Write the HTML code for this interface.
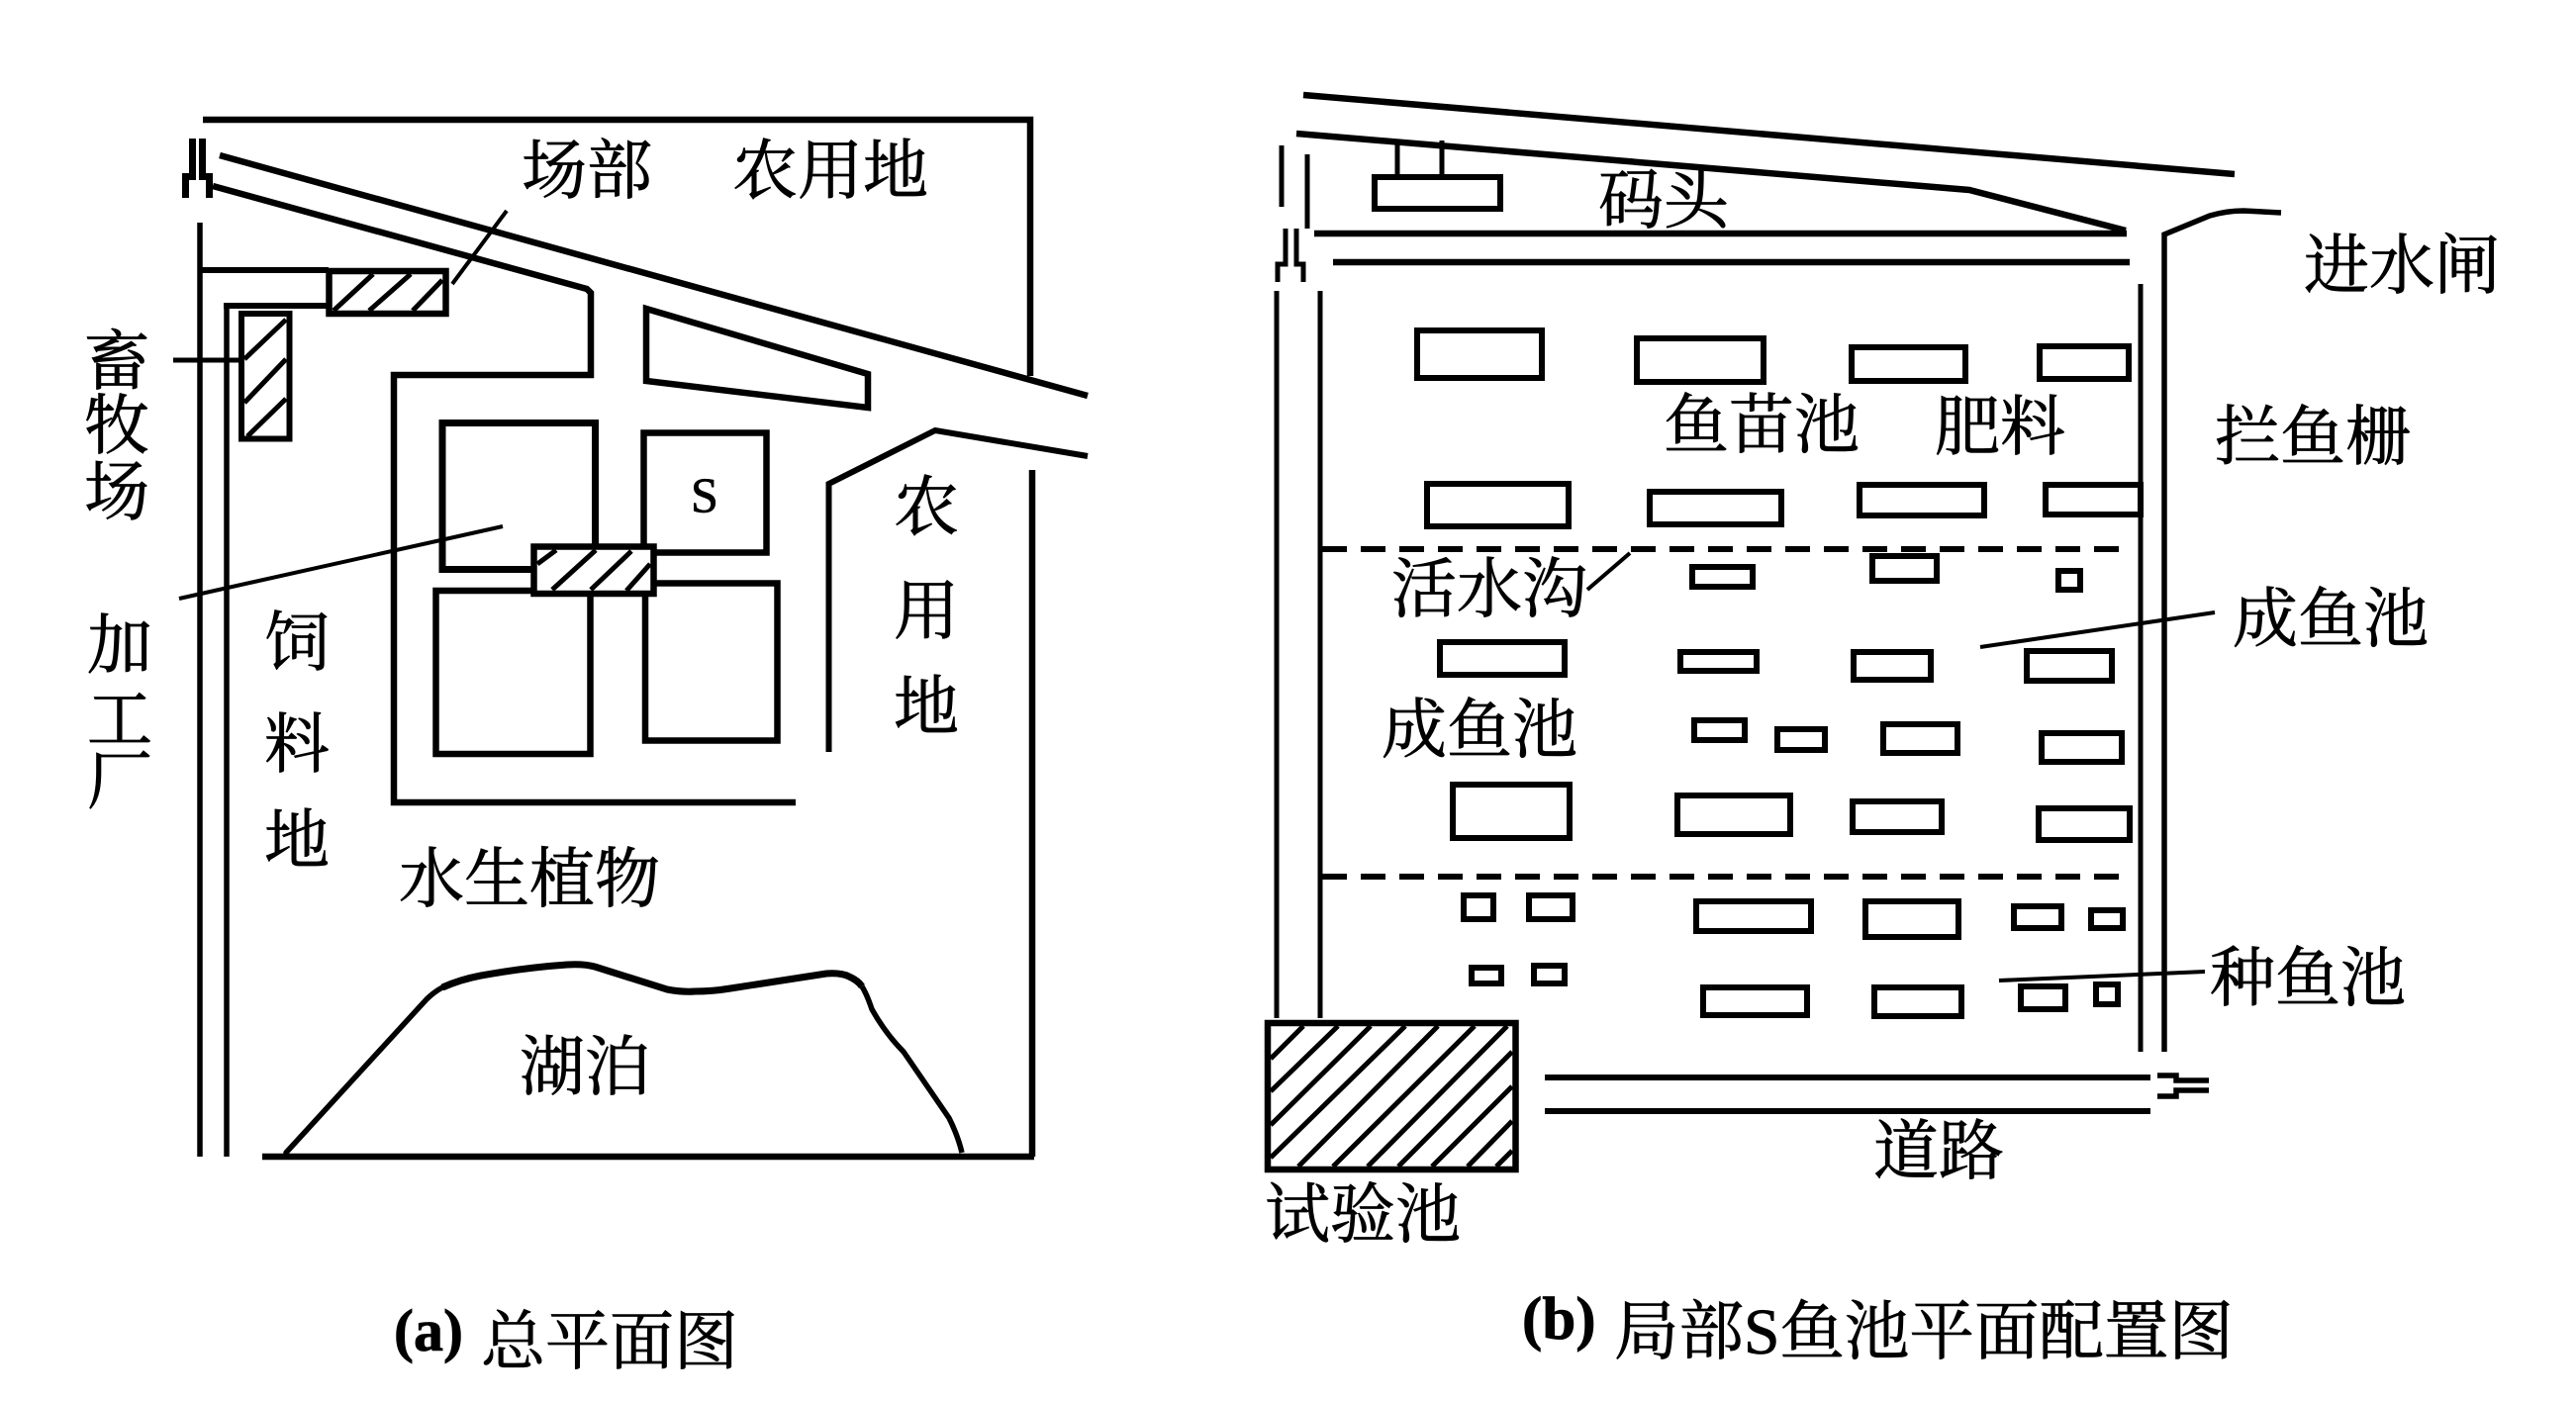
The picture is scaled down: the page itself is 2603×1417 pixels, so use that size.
<!DOCTYPE html>
<html lang="zh"><head><meta charset="utf-8"><title>鱼池平面配置图</title>
<style>
html,body{margin:0;padding:0;background:#fff}
svg{display:block}
text{font-family:"Liberation Serif","Noto Serif CJK SC",serif;font-size:66px;fill:#000;stroke:#000;stroke-width:.8px}
.l{fill:none;stroke:#000;stroke-width:6.5;stroke-linejoin:miter}
.t{fill:none;stroke:#000;stroke-width:4}
.h{fill:none;stroke:#000;stroke-width:5}
.p{fill:#fff;stroke:#000;stroke-width:6.5}
.d{fill:none;stroke:#000;stroke-width:6;stroke-dasharray:25 14}
</style></head><body>
<svg xmlns="http://www.w3.org/2000/svg" width="2603" height="1417" viewBox="0 0 2603 1417">
<rect width="2603" height="1417" fill="#fff"/>
<!-- (a) -->
<path class="l" d="M205 121H1041V380M1043 475V1169M265 1169H1045"/>
<path class="h" style="stroke-width:5.500" d="M202 225V1169M229 307V1169"/>
<path class="l" style="stroke-width:6" d="M202 273H332M226 309H332"/>
<path class="l" d="M222 157L1099 400M215 188L593 292L597 296V379H398V811H804"/>
<path class="l" style="stroke-width:7" d="M194.500 140V178.500H187.500V200M204.500 140V178.500H211.500V200"/>
<path class="l" style="stroke-width:6" d="M837.500 760V489L945 435L1099 461"/>
<path class="l" d="M653 312L877 378V412L653 385Z"/>
<rect class="p" x="332.500" y="274" width="118" height="43"/>
<path class="h" d="M337 314L377 277M373 314L415 277M417 314L447 283"/>
<rect class="p" x="244" y="317" width="48.500" height="126.500" style="stroke-width:6"/>
<path class="h" d="M247 363L289 323M247 407L289 363M250 441L289 403"/>
<path class="t" style="stroke-width:5" d="M175 364H247"/>
<path class="t" d="M512 213L457 287"/>
<rect class="l" style="stroke-width:7" x="447" y="427.500" width="154.500" height="148"/>
<rect class="l" x="650.500" y="437.500" width="124" height="121"/>
<rect class="l" x="440.500" y="597" width="156" height="165"/>
<rect class="l" x="652" y="589.500" width="133.500" height="159"/>
<rect class="p" x="539.500" y="552.500" width="121" height="47.500"/>
<path class="h" d="M543 570L562 556M558 596L602 556M597 596L638 557M633 597L657 570"/>
<path class="t" d="M181 605L508 532"/>
<path class="h" style="stroke-width:5.500" stroke-linecap="round" d="M289 1165L431 1010Q438 1003 447 998"/>
<path class="l" style="stroke-width:7" d="M447 998Q465 990 486 986Q530 978 573 975Q590 974 601 977L674 1000Q690 1003 702 1002Q720 1002 738 999L835 984Q850 983 858 987Q867 991 871 997"/>
<path class="h" style="stroke-width:5.500" d="M871 997Q876 1005 881 1020Q895 1045 913 1063L959 1130Q968 1148 972 1165"/>
<text x="527" y="195">场部</text><text x="740" y="195">农用地</text>
<text x="85" y="388">畜</text><text x="85" y="453">牧</text><text x="85" y="520">场</text>
<text x="88" y="675">加</text><text x="88" y="750">工</text><text x="88" y="812">厂</text>
<text x="267" y="672">饲</text><text x="267" y="775">料</text><text x="267" y="872">地</text>
<text x="903" y="535">农</text><text x="903" y="640">用</text><text x="903" y="737">地</text>
<text x="698" y="517" style="font-size:50px">S</text>
<text x="403" y="911">水生植物</text>
<text x="525" y="1101">湖泊</text>
<text x="398" y="1365" style="font-size:60px;font-weight:bold">(a)</text>
<text x="486" y="1378" style="font-size:65px">总平面图</text>
<!-- (b) -->
<path class="l" style="stroke-width:6.500" d="M1317 96L2258 176M1310 135L1990 192L2148 233M1328 236H2149M1347 265H2152"/>
<path class="h" d="M1295 147V209M1321 156V231"/>
<path class="l" style="stroke-width:5" d="M1299 231V267H1291V285M1310 231V267H1317V285"/>
<path class="h" d="M1290 294V1029M1334 294V1029M2163 287V1063"/>
<path class="h" d="M2187 1063V237L2233 218Q2250 213 2267 213L2305 215" style="stroke-width:5.500"/>
<path class="h" d="M1412 142V176M1457 142V176"/>
<rect class="l" style="stroke-width:6" x="1389" y="179" width="127" height="32"/>
<g class="l" style="stroke-width:6">
<rect x="1432" y="334" width="126" height="48"/><rect x="1654" y="342" width="128" height="44"/>
<rect x="1871" y="351" width="115" height="34"/><rect x="2061" y="350" width="90" height="33"/>
<rect x="1442" y="489" width="143" height="43"/><rect x="1667" y="497" width="133" height="33"/>
<rect x="1879" y="490" width="126" height="31"/><rect x="2067" y="490" width="96" height="30"/>
<rect x="1710" y="573" width="61" height="20"/><rect x="1892" y="562" width="65" height="25"/>
<rect x="2080" y="577" width="22" height="19"/>
<rect x="1455" y="649" width="126" height="33"/><rect x="1698" y="659" width="77" height="19"/>
<rect x="1873" y="659" width="78" height="28"/><rect x="2048" y="658" width="86" height="30"/>
<rect x="1712" y="728" width="51" height="20"/><rect x="1796" y="737" width="48" height="21"/>
<rect x="1903" y="732" width="75" height="29"/><rect x="2063" y="741" width="81" height="29"/>
<rect x="1468" y="793" width="118" height="54"/><rect x="1695" y="804" width="114" height="39"/>
<rect x="1872" y="810" width="90" height="31"/><rect x="2060" y="817" width="92" height="32"/>
<rect x="1479" y="905" width="30" height="24"/><rect x="1545" y="905" width="44" height="24"/>
<rect x="1714" y="911" width="116" height="30"/><rect x="1885" y="911" width="94" height="36"/>
<rect x="2035" y="916" width="48" height="22"/><rect x="2113" y="920" width="32" height="18"/>
<rect x="1487" y="978" width="30" height="16"/><rect x="1550" y="976" width="31" height="18"/>
<rect x="1721" y="998" width="105" height="28"/><rect x="1894" y="998" width="88" height="29"/>
<rect x="2042" y="997" width="45" height="23"/><rect x="2118" y="995" width="22" height="20"/>
</g>
<path class="d" d="M1336 555H2144M1336 886H2144"/>
<path class="t" d="M1604 596L1647 559M2001 654L2238 619M2020 991L2228 982"/>
<path class="h" d="M1284 1070L1317 1037M1284 1103L1352 1037M1284 1137L1385 1037M1284 1170L1420 1037M1312 1179L1453 1037M1347 1179L1490 1037M1382 1179L1523 1037M1413 1179L1528 1063M1447 1179L1528 1098M1483 1179L1528 1133M1512 1179L1528 1163"/>
<rect class="l" x="1281" y="1034" width="250.500" height="148"/>
<path class="l" style="stroke-width:6" d="M1561 1089H2173M1561 1123H2173"/>
<path class="l" style="stroke-width:5.500" d="M2180 1087H2199V1092H2232M2232 1102H2199V1108H2180"/>
<text x="1615" y="225">码头</text><text x="2328" y="291">进水闸</text>
<text x="1681" y="452">鱼苗池</text><text x="1955" y="454">肥料</text>
<text x="2238" y="464">拦鱼栅</text><text x="1406" y="618">活水沟</text>
<text x="2256" y="648">成鱼池</text><text x="1396" y="760">成鱼池</text>
<text x="2233" y="1011">种鱼池</text><text x="1893" y="1186">道路</text>
<text x="1278" y="1250">试验池</text>
<text x="1538" y="1353" style="font-size:61px;font-weight:bold">(b)</text>
<text x="1631" y="1368" style="font-size:65.500px">局部S鱼池平面配置图</text>
</svg>
</body></html>
